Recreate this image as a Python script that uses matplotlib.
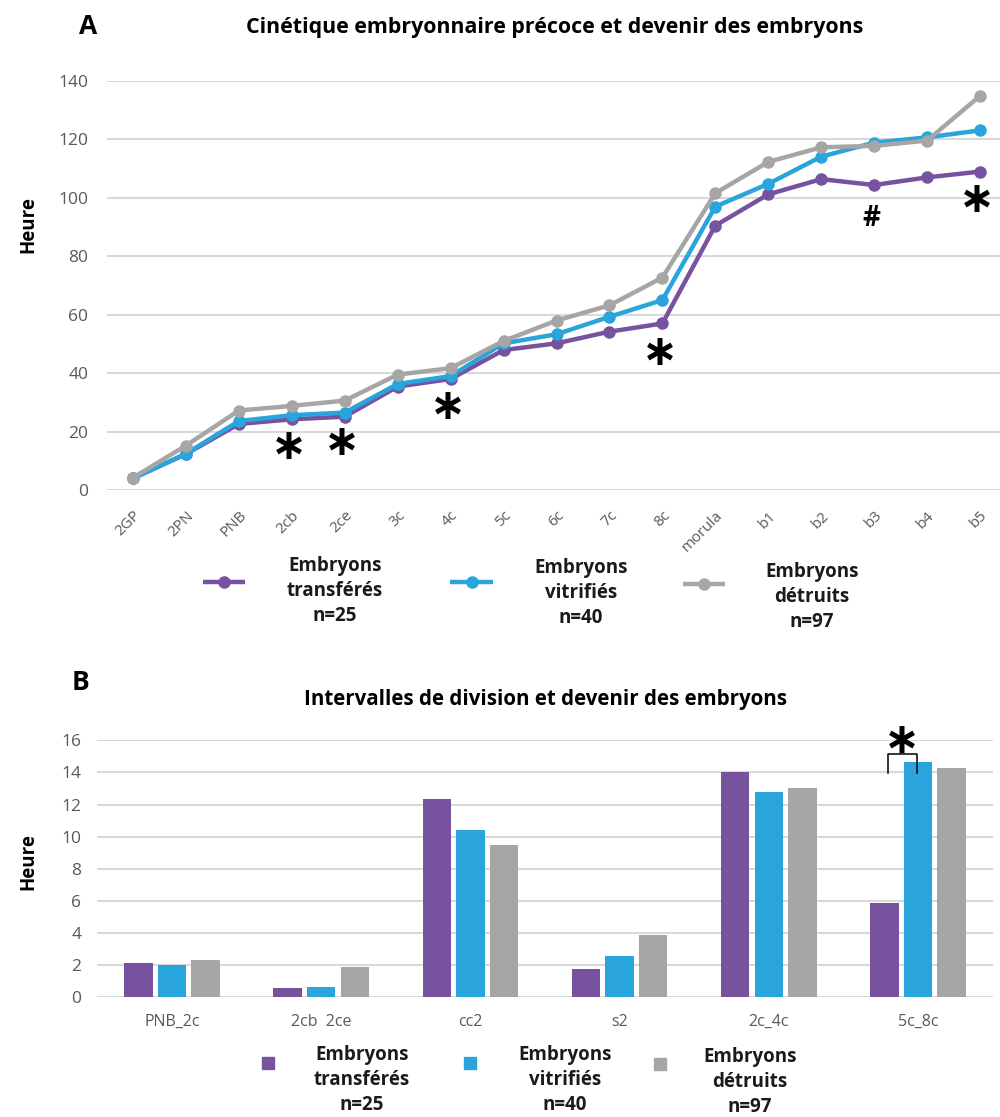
import matplotlib
matplotlib.use("Agg")
import matplotlib.pyplot as plt
import matplotlib.transforms as mtransforms
from matplotlib.lines import Line2D
import numpy as np

plt.rcParams['font.family'] = ['Open Sans', 'DejaVu Sans']

# ---- data: panel A ----
stages = ["2GP", "2PN", "PNB", "2cb", "2ce", "3c", "4c", "5c", "6c", "7c", "8c",
          "morula", "b1", "b2", "b3", "b4", "b5"]
transferes = [4.0, 12.3, 22.6, 24.2, 25.1, 35.4, 38.0, 47.9, 50.2, 54.2, 57.0,
              90.5, 101.2, 106.4, 104.4, 107.0, 109.0]
vitrifies = [4.0, 12.4, 23.6, 25.6, 26.5, 36.3, 39.0, 50.2, 53.3, 59.3, 65.0,
             97.0, 104.8, 114.1, 118.9, 120.7, 123.1]
detruits = [4.2, 15.2, 27.2, 28.8, 30.6, 39.5, 41.7, 51.0, 58.0, 63.2, 72.7,
            101.6, 112.3, 117.3, 117.8, 119.6, 134.9]

# ---- data: panel B ----
intervals = ["PNB_2c", "2cb  2ce", "cc2", "s2", "2c_4c", "5c_8c"]
b_transferes = [2.12, 0.58, 12.33, 1.76, 14.01, 5.89]
b_vitrifies = [2.00, 0.64, 10.42, 2.55, 12.78, 14.67]
b_detruits = [2.32, 1.89, 9.48, 3.86, 13.01, 14.30]

labels = ["Embryons\ntransférés\nn=25", "Embryons\nvitrifiés\nn=40", "Embryons\ndétruits\nn=97"]
colors = ["#77539F", "#29A5DC", "#A6A6A6"]
grid_c = "#D9D9D9"
tick_c = "#595959"

W, H = 1000, 1117
fig = plt.figure(figsize=(W / 100, H / 100), dpi=100)

def fx(px):
    return px / W

def fy(py):
    return 1 - py / H

# ---------------- Panel A ----------------
axA = fig.add_axes([fx(106.5), fy(490), fx(1006.5) - fx(106.5), fy(81) - fy(490)])
x = np.arange(len(stages))
series = [transferes, vitrifies, detruits]
for vals, c, lab in zip(series, colors, labels):
    axA.plot(x, vals, color=c, lw=3.2, marker='o', ms=8, label=lab,
             solid_capstyle='round', clip_on=False)
axA.set_xlim(-0.5, len(stages) - 0.5)
axA.set_ylim(0, 140)
axA.set_yticks(np.arange(0, 141, 20))
axA.set_xticks(x)
axA.set_xticklabels(stages, rotation=45, ha='right', rotation_mode='anchor')
shift = mtransforms.ScaledTranslation(4 / 100, 0, fig.dpi_scale_trans)
for lbl in axA.get_xticklabels():
    lbl.set_transform(lbl.get_transform() + shift)
axA.grid(axis='y', color=grid_c, lw=1.5)
axA.set_axisbelow(True)
for s in axA.spines.values():
    s.set_visible(False)
axA.tick_params(axis='both', length=0, colors=tick_c, labelsize=12.5)
axA.tick_params(axis='y', pad=13)
axA.tick_params(axis='x', pad=13, labelsize=11)
fig.text(fx(28), fy(225), "Heure", rotation=90, fontsize=13.5, fontweight='bold',
         ha='center', va='center')

# significance marks
marks_A = [(3, 14.7), (4, 16.1), (6, 28.4), (10, 46.9), (16, 99.3)]
for xi, yi in marks_A:
    axA.text(xi - 0.05, yi, "∗", fontsize=31, ha='center', va='center', color='black',
             family='DejaVu Sans', fontweight='bold')
axA.text(14 - 0.06, 93.1, "#", fontsize=20, ha='center', va='center', color='black',
         fontweight='bold')

fig.text(fx(88), fy(27), "A", fontsize=19, fontweight='bold', ha='center', va='center')
fig.text(fx(555), fy(27), "Cinétique embryonnaire précoce et devenir des embryons",
         fontsize=15.4, fontweight='bold', ha='center', va='center')

# legend A (manual layout)
legA_handles = [(203, 245, 582), (450, 493, 582), (683, 725, 584)]
legA_text = [(335, 591), (581, 593), (812, 597)]
for (x0, x1, yy), (tx, ty), c, lab in zip(legA_handles, legA_text, colors, labels):
    fig.add_artist(Line2D([fx(x0), fx((x0 + x1) / 2), fx(x1)], [fy(yy)] * 3,
                          transform=fig.transFigure, color=c, lw=3.2, marker='o', ms=8,
                          markevery=[1], solid_capstyle='butt'))
    fig.text(fx(tx), fy(ty), lab, fontsize=13.5, fontweight='bold', ha='center', va='center',
             multialignment='center', linespacing=1.33, color='#1a1a1a')

# ---------------- Panel B ----------------
axB = fig.add_axes([fx(97.4), fy(997.3), fx(992.6) - fx(97.4), fy(740.3) - fy(997.3)])
xb = np.arange(len(intervals))
bw = 0.19
off = 0.225
bseries = [b_transferes, b_vitrifies, b_detruits]
for i, (vals, c, lab) in enumerate(zip(bseries, colors, labels)):
    axB.bar(xb + (i - 1) * off, vals, width=bw, color=c, label=lab, zorder=3)
axB.set_xlim(-0.5, len(intervals) - 0.5)
axB.set_ylim(0, 16)
axB.set_yticks(np.arange(0, 17, 2))
axB.set_xticks(xb)
axB.set_xticklabels(intervals)
axB.grid(axis='y', color=grid_c, lw=1.5, zorder=0)
axB.set_axisbelow(True)
for s in axB.spines.values():
    s.set_visible(False)
axB.tick_params(axis='both', length=0, colors=tick_c, labelsize=12.5)
axB.tick_params(axis='y', pad=11.5)
axB.tick_params(axis='x', pad=12, labelsize=11.5)
fig.text(fx(28), fy(862), "Heure", rotation=90, fontsize=13.5, fontweight='bold',
         ha='center', va='center')

# bracket + star over 5c_8c
axB.plot([4.796, 4.796, 4.99, 4.99], [13.97, 15.15, 15.15, 13.97], color='black', lw=1.1,
         clip_on=False, zorder=4)
axB.text(4.889, 15.95, "∗", fontsize=31, ha='center', va='center', color='black',
         family='DejaVu Sans', fontweight='bold', zorder=5)

fig.text(fx(80), fy(683), "B", fontsize=19, fontweight='bold', ha='center', va='center')
fig.text(fx(545), fy(700), "Intervalles de division et devenir des embryons",
         fontsize=14.8, fontweight='bold', ha='center', va='center')

# legend B (manual layout)
legB_sq = [(268, 1063), (470, 1063), (660, 1064)]
legB_text = [(362, 1080), (565, 1080), (750, 1082)]
for (sx, sy), (tx, ty), c, lab in zip(legB_sq, legB_text, colors, labels):
    fig.add_artist(Line2D([fx(sx)], [fy(sy)], transform=fig.transFigure, color=c,
                          marker='s', ms=9, lw=0))
    fig.text(fx(tx), fy(ty), lab, fontsize=13.5, fontweight='bold', ha='center', va='center',
             multialignment='center', linespacing=1.33, color='#1a1a1a')

fig.savefig("out.png", dpi=100)
